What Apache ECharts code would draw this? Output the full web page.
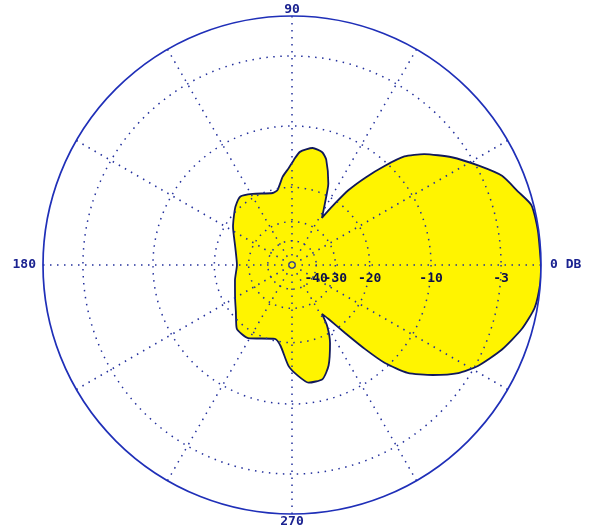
<!DOCTYPE html>
<html><head><meta charset="utf-8">
<script src="https://cdn.jsdelivr.net/npm/echarts@6/dist/echarts.min.js"></script>
<style>html,body{margin:0;padding:0;background:#fff}#c{width:592px;height:528px}</style>
</head><body><div id="c"></div>
<script>
// Radiation pattern (azimuth, degrees) and relative gain (dB)
const patternAngles = [0, 8, 14, 18, 23, 28, 34, 40, 44, 47, 50, 53, 55, 57, 57.5, 62, 66, 72, 75, 80,
  86, 89, 92, 96, 101, 105, 119, 127, 134, 140, 147, 162, 180, 195, 211, 220, 229, 239, 257, 262,
  268, 273, 278, 285, 290, 296, 300, 301.5, 304, 308, 311, 313.5, 317, 322, 327, 331.5, 338, 344.5, 350, 356, 360];
const patternDb = [0, -0.05, -0.15, -0.8, -1.5, -2.8, -4.4, -6.3, -8.0, -10.5, -13.4, -16.8, -20.5, -24.5, -25.7, -21.7, -17.6, -13.9, -13.0, -12.7,
  -13.5, -14.8, -16.2, -17.7, -20.3, -20.7, -19.2, -18.3, -19.2, -20.4, -21.7, -24.5, -25.9, -24.7, -22.7, -21.0, -18.6, -18.4, -20.4, -19.1,
  -15.5, -13.9, -12.7, -12.8, -14.5, -18.1, -21.7, -25.2, -23.1, -18.2, -13.8, -10.5, -7.8, -5.7, -3.9, -2.8, -1.65, -0.73, -0.18, 0, 0];
// Grid rings (dB) and their labels
const ringDb = [-3, -40, -10, -30, -20];
const ringLabels = ['-3', '-40', '-10', '-30', '-20'];
const angleTickValues = [0, 90, 180, 270];
const angleTickLabels = ['0 DB', '90', '180', '270'];

// ARRL log-periodic radial scale: each 2 dB step = 0.89 of radius
const toR = db => Math.pow(0.89, -db / 2);
const ringR = ringDb.map(toR);
const richKeys = ['r', 't', 'l', 'b'];

const chart = echarts.init(document.getElementById('c'), null, {renderer: 'canvas'});
const labelFont = {fontFamily: 'DejaVu Sans Mono', fontWeight: 'bold', fontSize: 13, color: '#1a2290'};
const gridLine = {type: [1.5, 5.5], color: '#23309c', width: 1.5};
chart.setOption({
  animation: false,
  backgroundColor: '#ffffff',
  polar: {center: [292, 265], radius: 249},
  angleAxis: {
    type: 'value', min: 0, max: 360, interval: 30, startAngle: 0, clockwise: false, z: 5,
    axisLine: {lineStyle: {color: '#1f2fb8', width: 1.7}},
    axisTick: {show: false},
    axisLabel: {
      margin: 0,
      formatter: v => {
        const i = angleTickValues.indexOf(v);
        return i < 0 || v === 360 ? '' : '{' + richKeys[i] + '|' + angleTickLabels[i] + '}';
      },
      rich: {
        r: Object.assign({padding: [0, 0, 0, 9]}, labelFont),
        t: Object.assign({padding: [0, 0, 0, 0]}, labelFont),
        l: Object.assign({padding: [0, 7, 0, 0]}, labelFont),
        b: Object.assign({padding: [1, 0, 0, 0]}, labelFont)
      }
    },
    splitLine: {show: true, lineStyle: gridLine}
  },
  radiusAxis: {
    type: 'value', min: 0, max: 1, z: 5,
    axisLine: {show: false},
    axisTick: {show: false, customValues: ringR},
    axisLabel: {
      customValues: ringR, margin: -7, verticalAlign: 'top', hideOverlap: false,
      fontFamily: 'DejaVu Sans Mono', fontWeight: 'bold', fontSize: 13, color: '#0c0f4a',
      formatter: v => {
        let best = 0;
        ringR.forEach((r, i) => { if (Math.abs(r - v) < Math.abs(ringR[best] - v)) best = i; });
        return ringLabels[best];
      }
    },
    splitLine: {show: true, lineStyle: gridLine}
  },
  series: [{
    type: 'line', coordinateSystem: 'polar', z: 2,
    data: patternAngles.map((a, i) => [toR(patternDb[i]), a]),
    symbol: 'none', smooth: 0.2,
    lineStyle: {color: '#10185a', width: 1.8},
    areaStyle: {color: '#fff400', opacity: 1}
  }]
});
</script></body></html>
